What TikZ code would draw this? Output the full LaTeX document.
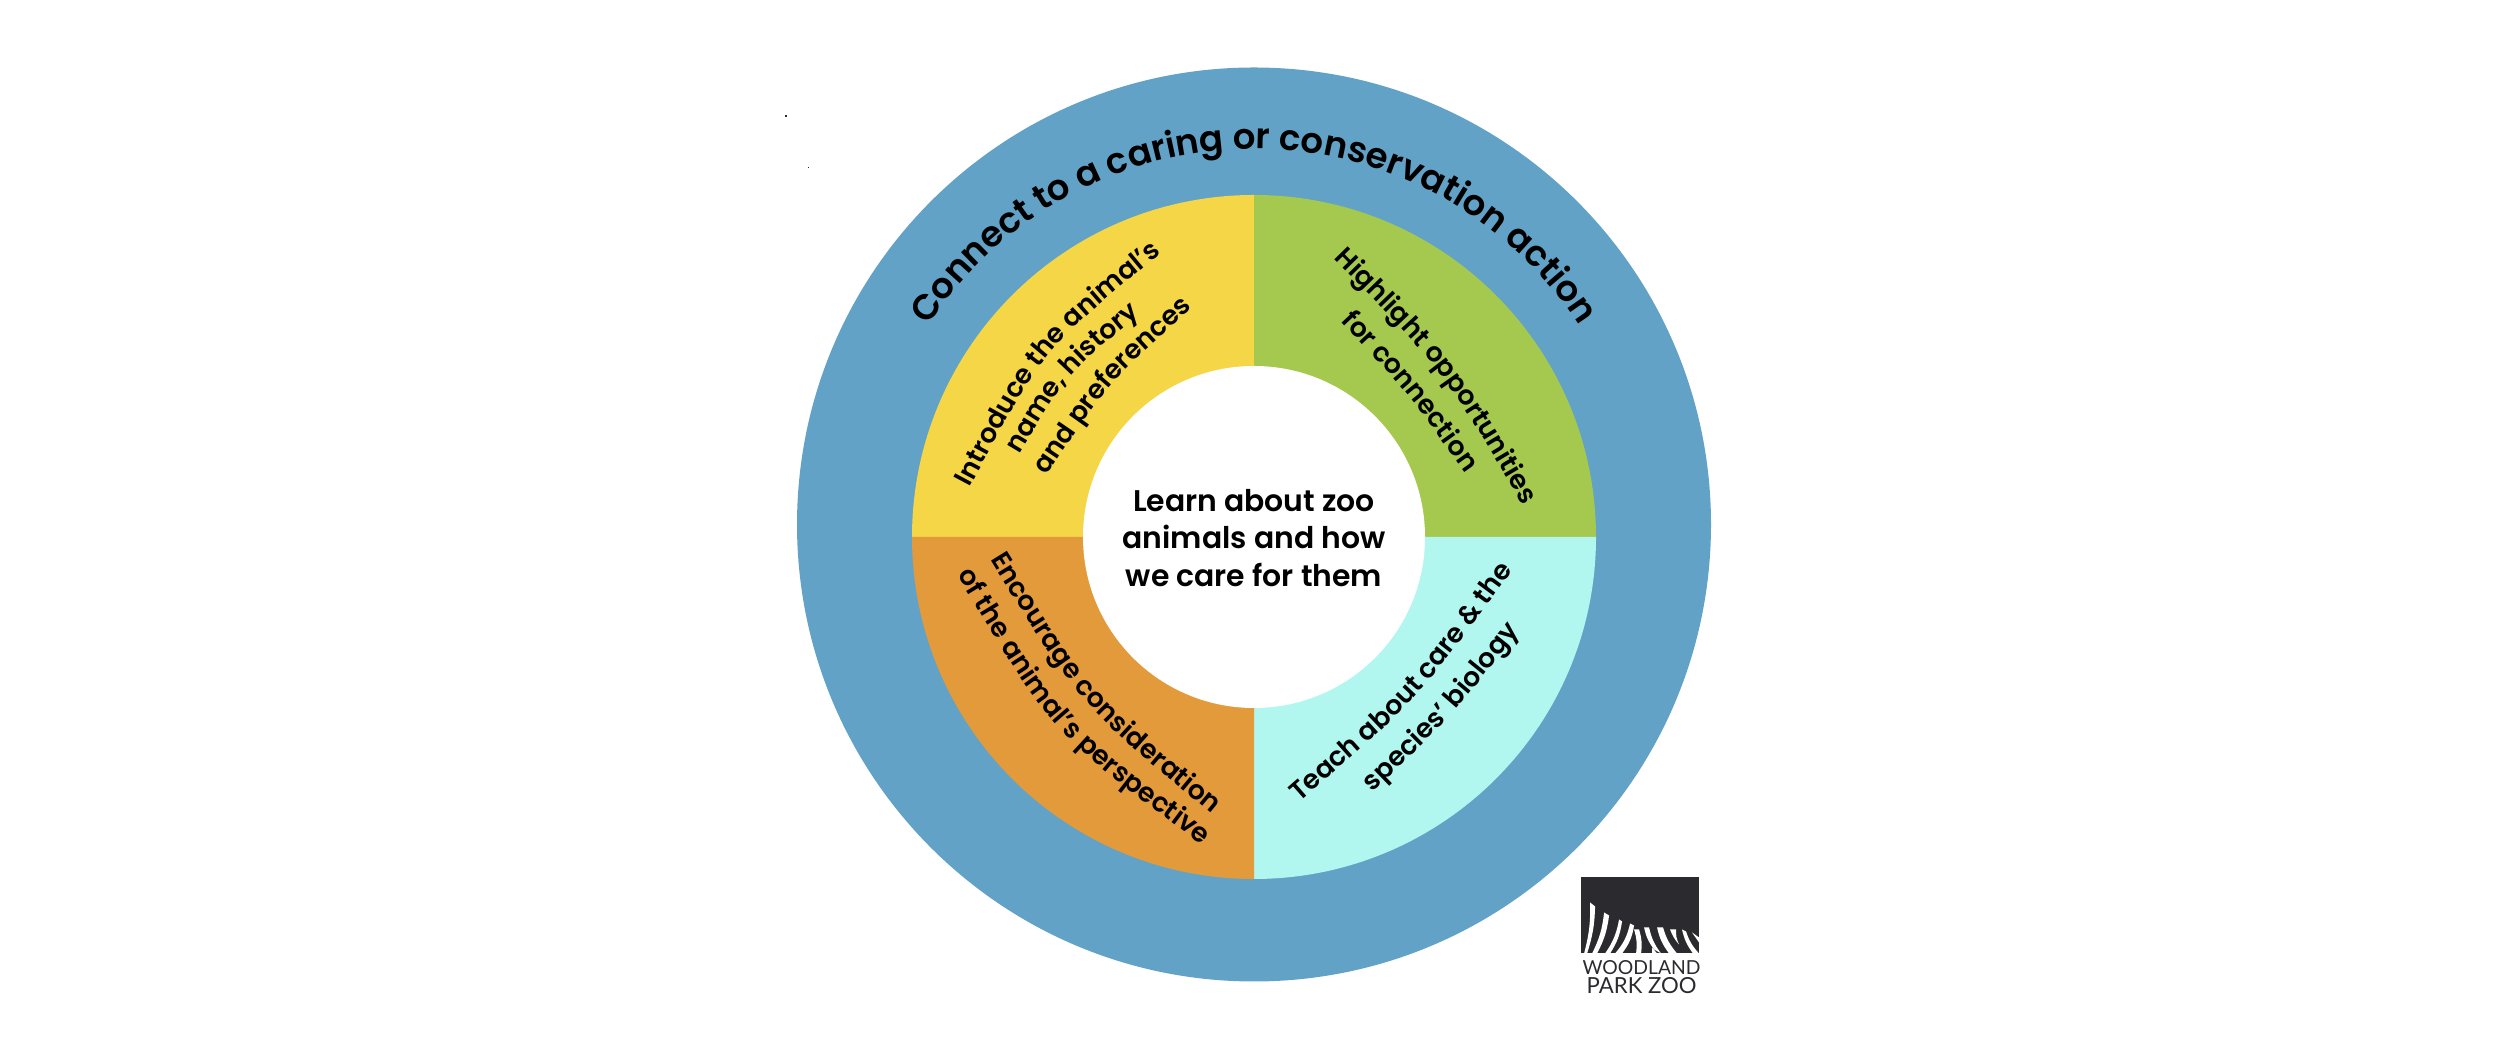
\documentclass[tikz,border=0pt]{standalone}
\usepackage{fontspec}
\setmainfont{Poppins SemiBold}
\newfontfamily\logofont{Lato}
\usetikzlibrary{decorations.text, calc}

\definecolor{ringblue}{HTML}{62A2C7}
\definecolor{careyellow}{HTML}{F4D646}
\definecolor{caregreen}{HTML}{A4C94E}
\definecolor{careteal}{HTML}{B2F7EF}
\definecolor{careorange}{HTML}{E39A3B}
\definecolor{logodark}{HTML}{2B2A2E}
\newcommand{\ringfont}{\fontsize{10.1}{12}\selectfont}
\newcommand{\arcfont}{\fontsize{7.6}{9}\selectfont}
\newcommand{\arcline}[4]{\path[decorate, decoration={text along path, text align=center, text={|\arcfont|#4}}]
  ($(#1)!-0.4cm!(#2)$) -- (#1) .. controls (#2) .. (#3) -- ($(#3)!-0.4cm!(#2)$);}

\begin{document}
\begin{tikzpicture}

  \tikzstyle{center text} = [align=center, font=\fontsize{8.5}{10.7}\selectfont, text=black]
  \tikzstyle{stripe} = [fill=white]
  \tikzstyle{logo text} = [text=logodark, inner sep=0pt]

  \useasboundingbox (0,0) rectangle (25,10.63);
  \coordinate (mid) at (12.54,5.26);

  \fill[ringblue] (12.54,5.385) circle (4.57);
  \fill[careyellow] (mid) -- ++(-3.42,0) arc (180:90:3.42) -- cycle;
  \fill[caregreen]  (mid) -- ++(0,3.42) arc (90:0:3.42) -- cycle;
  \fill[careteal]   (mid) -- ++(3.42,0) arc (0:-90:3.42) -- cycle;
  \fill[careorange] (mid) -- ++(0,-3.42) arc (270:180:3.42) -- cycle;

  \node (hub) [circle, fill=white, minimum size=3.42cm, inner sep=0pt] at (mid) {};
  \node (hubtext) [center text] at (12.54,5.25) {Learn about zoo\\animals and how\\we care for them};

  % outer ring
  \path[decorate, decoration={text along path, text align=center, text={|\ringfont|Connect to a caring or conservation action}}]
    ([shift={(170:3.88)}]mid) arc (170:10:3.88);

  % everything below in pixels of the picture
  \begin{scope}[x=0.01cm, y=-0.01cm, yshift=10.63cm]

    % yellow
    \arcline{971.7,485}{1043,351.3}{1160,255}{Introduce the animal's}
    \arcline{1021.7,451.7}{1068.2,373.9}{1138.3,316.7}{name, history}
    \arcline{1050,471.7}{1109.7,383}{1189.3,311.7}{and preferences}

    % green
    \arcline{1336.7,261}{1444.3,370.7}{1522.3,503.3}{Highlight opportunities}
    \arcline{1344,324.3}{1409.1,393.4}{1464,471}{for connection}

    % orange
    \arcline{991.7,561}{1081,705.3}{1211.7,813.7}{Encourage consideration}
    \arcline{960.7,580.3}{1053.6,734.4}{1198.3,842}{of the animal's perspective}

    % teal
    \arcline{1303.3,800.3}{1419.6,698.6}{1511.3,574.3}{Teach about care {\&} the}
    \arcline{1378,788.7}{1452.3,717}{1516.7,636.3}{species' biology}

    % logo
    \fill[logodark] (1582,878) rectangle (1700,954);
    \fill[stripe] (1591,903) -- (1596,907) to[bend left=8] (1588,954) -- (1585,954) to[bend right=8] cycle;
    \fill[stripe] (1605,913) -- (1610,916) to[bend left=10] (1598,954) -- (1593,954) to[bend right=10] cycle;
    \fill[stripe] (1620,920) -- (1623,922) to[bend left=12] (1611,954) -- (1606,954) to[bend right=12] cycle;
    \fill[stripe] (1631,924) -- (1635,926) to[bend left=14] (1623,954) -- (1616,954) to[bend right=14] cycle;
    \fill[stripe] (1635,930) -- (1640,930) to[bend left=12] (1642,954) -- (1637,954) to[bend right=12] cycle;
    \fill[stripe] (1645,928) -- (1650,928) to[bend right=12] (1662,954) -- (1655,950) to[bend left=12] cycle;
    \fill[stripe] (1653,948) -- (1658,954) -- (1653,954) -- cycle;
    \fill[stripe] (1658,928) -- (1664,928) to[bend right=12] (1678,954) -- (1670,954) to[bend left=12] cycle;
    \fill[stripe] (1671,930) -- (1677,930) to[bend right=14] (1680,945) to[bend left=10] cycle;
    \fill[stripe] (1683,930) -- (1687,932) to[bend right=12] (1700,954) -- (1694,954) to[bend left=12] cycle;
    \fill[stripe] (1693,933) -- (1700,938) -- (1700,943) -- cycle;
    \fill[logodark] (785,115) rectangle (787,117);
    \fill[logodark] (808,167) rectangle (809,168);
    \node (logotop) [logo text, font=\logofont\fontsize{5.5}{7}\selectfont] at (1642.5,968.5) {WOODLAND};
    \node (logobottom) [logo text, font=\logofont\fontsize{6.3}{8}\selectfont] at (1642.5,986.5) {PARK ZOO};
  \end{scope}

\end{tikzpicture}
\end{document}
